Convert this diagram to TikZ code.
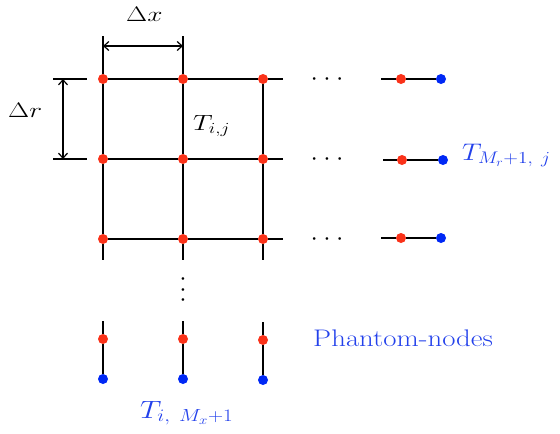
\RequirePackage{fix-cm}
\documentclass[tikz,border=0pt]{standalone}
\usepackage{graphicx}
\usetikzlibrary{arrows.meta}
\definecolor{dotred}{RGB}{250,50,25}
\definecolor{dotblue}{RGB}{0,40,245}
\definecolor{txtblue}{RGB}{35,65,235}
\newcommand{\hstretch}[2]{\scalebox{#1}[1]{#2}}
\begin{document}
\begin{tikzpicture}[x=1pt,y=-1pt,
  gridline/.style={line width=1.4pt},
  rdot/.style={circle,fill=dotred,inner sep=0pt,minimum size=10pt},
  bdot/.style={circle,fill=dotblue,inner sep=0pt,minimum size=10pt},
  dimarrow/.style={line width=1.2pt,{Straight Barb[length=5pt,width=9pt]}-{Straight Barb[length=5pt,width=9pt]}},
  lbl/.style={inner sep=0pt,anchor=base west,font=\fontsize{21}{25}\selectfont},
  blbl/.style={lbl,text=txtblue},
  dotsnode/.style={inner sep=0pt,font=\fontsize{6}{7}\selectfont}
]
\useasboundingbox (0,0) rectangle (560,434);

% grid dots
\foreach \c/\x in {1/103,2/183,3/263}{
  \foreach \r/\y in {1/79,2/159,3/239}{
    \node[rdot] (g\c\r) at (\x,\y) {};
  }
}
% free ends
\coordinate (h1) at (283,79);
\coordinate (h2) at (283,159);
\coordinate (h3) at (283,239);
\coordinate (top1) at (103,36);
\coordinate (top2) at (183,36);
\coordinate (bot1) at (103,260);
\coordinate (bot2) at (183,260);
\coordinate (bot3) at (263,260);

\foreach \r in {1,2,3}{
  \draw[gridline] (g1\r) -- (g2\r) -- (g3\r) -- (h\r);
}
\draw[gridline] (top1) -- (g11) -- (g12) -- (g13) -- (bot1);
\draw[gridline] (top2) -- (g21) -- (g22) -- (g23) -- (bot2);
\draw[gridline] (g31) -- (g32) -- (g33) -- (bot3);

% dimension lines
\coordinate (ra1) at (53,79);  \coordinate (rb1x) at (87,79);
\coordinate (ra2) at (53,159); \coordinate (rb2x) at (87,159);
\draw[gridline] (ra1) -- (rb1x);
\draw[gridline] (ra2) -- (rb2x);
\coordinate (dxa) at (103,46); \coordinate (dxb) at (183,46);
\draw[dimarrow] (dxa) -- (dxb);
\coordinate (dra) at (63,79); \coordinate (drb) at (63,159);
\draw[dimarrow] (dra) -- (drb);

% right side
\node[rdot] (rr1) at (401,79) {};  \node[bdot] (rb1) at (441,79) {};
\node[rdot] (rr2) at (402,160) {}; \node[bdot] (rb2) at (443,160) {};
\node[rdot] (rr3) at (401,238) {}; \node[bdot] (rb3) at (441,238) {};
\coordinate (rl1) at (381,79);
\coordinate (rl2) at (383,160);
\coordinate (rl3) at (381,238);
\foreach \r in {1,2,3}{
  \draw[gridline] (rl\r) -- (rr\r) -- (rb\r);
}

% bottom
\node[rdot] (br1) at (103,339) {}; \node[bdot] (bb1) at (103,379) {};
\node[rdot] (br2) at (183,339) {}; \node[bdot] (bb2) at (183,379) {};
\node[rdot] (br3) at (263,340) {}; \node[bdot] (bb3) at (263,380) {};
\coordinate (bt1) at (103,321);
\coordinate (bt2) at (183,321);
\coordinate (bt3) at (263,322);
\foreach \c in {1,2,3}{
  \draw[gridline] (bt\c) -- (br\c) -- (bb\c);
}

% ellipses
\node[dotsnode] (hd1) at (327,79) {$\bullet$\hspace{9pt}$\bullet$\hspace{9pt}$\bullet$};
\node[dotsnode] (hd2) at (327,159) {$\bullet$\hspace{9pt}$\bullet$\hspace{9pt}$\bullet$};
\node[dotsnode] (hd3) at (327,239) {$\bullet$\hspace{9pt}$\bullet$\hspace{9pt}$\bullet$};
\node[dotsnode] (vd) at (183,290) {\vbox{\baselineskip10.5pt\lineskiplimit0pt\hbox{$\bullet$}\hbox{$\bullet$}\hbox{$\bullet$}}};

% labels
\node[lbl] (dx) at (126,21) {\hstretch{1.3}{$\Delta x$}};
\node[lbl] (dr) at (8,117) {\hstretch{1.3}{$\Delta r$}};
\node[lbl,font=\fontsize{22}{26}\selectfont] (tij) at (193,130) {\hstretch{1.25}{$T_{i,j}$}};
\node[blbl,font=\fontsize{24}{28}\selectfont] (tmr) at (462,160) {\hstretch{1.15}{$T_{M_r+1,\ j}$}};
\node[blbl,font=\fontsize{25}{29}\selectfont] (tmx) at (140,418) {\hstretch{1.2}{$T_{i,\ M_x+1}$}};
\node[blbl,font=\fontsize{24}{28}\selectfont] (ph) at (313,346) {\hstretch{1.2}{Phantom-nodes}};
\end{tikzpicture}
\end{document}
